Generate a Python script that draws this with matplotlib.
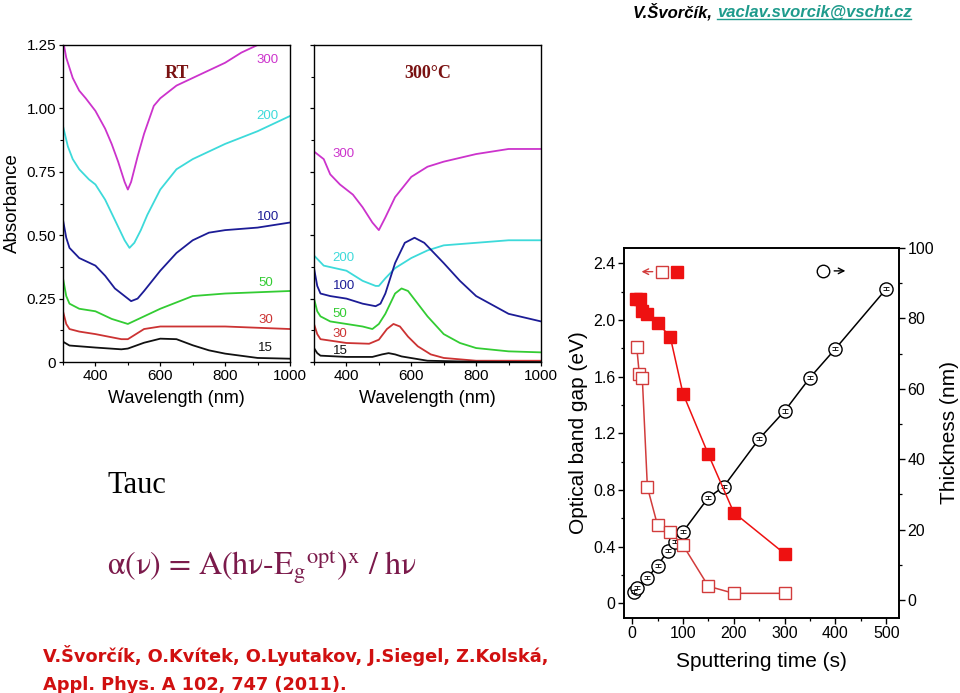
import matplotlib
matplotlib.use('Agg')
import matplotlib.pyplot as plt
from matplotlib.lines import Line2D
from matplotlib.ticker import MultipleLocator

plt.rcParams.update({
    'font.family': ['Liberation Sans', 'DejaVu Sans'],
    'mathtext.fontset': 'stix',
    'xtick.direction': 'out',
    'ytick.direction': 'out',
})

W, H = 960, 693

COL = {
    '300': '#cc33cc',
    '200': '#3ddada',
    '100': '#1c1c96',
    '50': '#33cc33',
    '30': '#cc3333',
    '15': '#111111',
}
TITLE_COL = '#7a1212'

# ── RT absorbance spectra ─────────────────────────────────────────
rt_300_wl = [300, 310, 330, 350, 370, 400, 430, 450, 470, 490, 500, 510, 530, 550, 580, 600, 650, 700, 750, 800, 850, 900, 920]
rt_300_ab = [1.27, 1.20, 1.12, 1.07, 1.04, 0.99, 0.92, 0.86, 0.79, 0.71, 0.68, 0.71, 0.81, 0.90, 1.01, 1.04, 1.09, 1.12, 1.15, 1.18, 1.22, 1.25, 1.27]

rt_200_wl = [300, 315, 330, 350, 380, 400, 430, 460, 490, 505, 520, 540, 560, 600, 650, 700, 800, 900, 1000]
rt_200_ab = [0.93, 0.85, 0.80, 0.76, 0.72, 0.70, 0.64, 0.56, 0.48, 0.45, 0.47, 0.52, 0.58, 0.68, 0.76, 0.80, 0.86, 0.91, 0.97]

rt_100_wl = [300, 310, 320, 350, 400, 430, 460, 490, 510, 530, 550, 600, 650, 700, 750, 800, 900, 1000]
rt_100_ab = [0.56, 0.49, 0.45, 0.41, 0.38, 0.34, 0.29, 0.26, 0.24, 0.25, 0.28, 0.36, 0.43, 0.48, 0.51, 0.52, 0.53, 0.55]

rt_50_wl = [300, 310, 320, 350, 400, 450, 500, 550, 600, 700, 800, 1000]
rt_50_ab = [0.33, 0.26, 0.23, 0.21, 0.20, 0.17, 0.15, 0.18, 0.21, 0.26, 0.27, 0.28]

rt_30_wl = [300, 310, 320, 350, 400, 480, 500, 550, 600, 700, 800, 1000]
rt_30_ab = [0.20, 0.15, 0.13, 0.12, 0.11, 0.09, 0.09, 0.13, 0.14, 0.14, 0.14, 0.13]

rt_15_wl = [300, 320, 400, 480, 500, 550, 600, 650, 700, 750, 800, 900, 1000]
rt_15_ab = [0.08, 0.065, 0.057, 0.050, 0.053, 0.076, 0.092, 0.090, 0.066, 0.046, 0.033, 0.016, 0.013]

# ── 300 °C absorbance spectra ─────────────────────────────────────
ht_300_wl = [300, 330, 350, 380, 420, 450, 480, 500, 520, 550, 600, 650, 700, 800, 900, 1000]
ht_300_ab = [0.83, 0.80, 0.74, 0.70, 0.66, 0.61, 0.55, 0.52, 0.57, 0.65, 0.73, 0.77, 0.79, 0.82, 0.84, 0.84]

ht_200_wl = [300, 330, 400, 450, 490, 500, 520, 550, 600, 650, 700, 800, 900, 1000]
ht_200_ab = [0.42, 0.38, 0.36, 0.32, 0.30, 0.30, 0.33, 0.37, 0.41, 0.44, 0.46, 0.47, 0.48, 0.48]

ht_100_wl = [300, 310, 320, 350, 400, 450, 490, 505, 520, 550, 580, 610, 640, 670, 700, 750, 800, 900, 1000]
ht_100_ab = [0.37, 0.30, 0.27, 0.26, 0.25, 0.23, 0.22, 0.23, 0.27, 0.39, 0.47, 0.49, 0.47, 0.43, 0.39, 0.32, 0.26, 0.19, 0.16]

ht_50_wl = [300, 310, 320, 350, 400, 450, 480, 500, 520, 550, 570, 590, 620, 650, 700, 750, 800, 900, 1000]
ht_50_ab = [0.25, 0.20, 0.18, 0.16, 0.15, 0.14, 0.13, 0.15, 0.19, 0.27, 0.29, 0.28, 0.23, 0.18, 0.11, 0.075, 0.055, 0.042, 0.038]

ht_30_wl = [300, 310, 320, 400, 470, 500, 525, 545, 565, 590, 620, 660, 700, 800, 1000]
ht_30_ab = [0.15, 0.11, 0.09, 0.075, 0.072, 0.088, 0.13, 0.15, 0.14, 0.10, 0.062, 0.030, 0.016, 0.005, 0.005]

ht_15_wl = [300, 310, 320, 400, 480, 510, 530, 550, 570, 650, 800, 1000]
ht_15_ab = [0.055, 0.035, 0.025, 0.020, 0.020, 0.030, 0.035, 0.030, 0.022, 0.005, 0.001, 0.0]

# label anchors (wavelength, absorbance)
rt_labels = {'300': (897, 1.19), '200': (897, 0.97), '100': (897, 0.57),
             '50': (902, 0.31), '30': (902, 0.165), '15': (902, 0.055)}
ht_labels = {'300': (358, 0.82), '200': (358, 0.41), '100': (358, 0.30),
             '50': (358, 0.19), '30': (358, 0.11), '15': (358, 0.043)}

# ── band gap / thickness vs sputtering time ───────────────────────
t_rt = [7, 15, 20, 30, 50, 75, 100, 150, 200, 300]
eg_rt = [2.15, 2.15, 2.06, 2.04, 1.98, 1.88, 1.48, 1.05, 0.64, 0.35]

t_ht = [9, 14, 20, 30, 50, 75, 100, 150, 200, 300]
eg_ht = [1.81, 1.62, 1.59, 0.82, 0.55, 0.50, 0.41, 0.12, 0.07, 0.07]

t_thk = [3, 10, 30, 50, 70, 85, 100, 150, 180, 250, 300, 350, 400, 500]
thk = [2.4, 3.5, 6.4, 9.7, 14.0, 16.6, 19.4, 29.1, 32.2, 45.8, 53.7, 63.2, 71.4, 88.4]
thk_err = [0.45] * len(thk)


def fx(px):
    return px / W


def fy(py):
    return 1 - py / H


fig = plt.figure(figsize=(W / 100, H / 100), dpi=100)


def spectra_panel(rect, series, labels, title, show_ylabels):
    ax = fig.add_axes(rect)
    for key, wl, ab in series:
        ax.plot(wl, ab, color=COL[key], lw=1.3)
    for key, (lx, ly) in labels.items():
        ax.text(lx, ly, key, color=COL[key], fontsize=9.5, ha='left', va='center')
    ax.set_xlim(300, 1000)
    ax.set_ylim(0, 1.25)
    ax.xaxis.set_minor_locator(MultipleLocator(100))
    ax.yaxis.set_major_locator(MultipleLocator(0.25))
    ax.yaxis.set_minor_locator(MultipleLocator(0.125))
    ax.set_xticks([400, 600, 800, 1000])
    ax.tick_params(labelsize=11, length=3, width=0.9, pad=2)
    ax.tick_params(which='minor', length=2, width=0.8)
    for s in ax.spines.values():
        s.set_linewidth(1.0)
    if show_ylabels:
        ax.yaxis.set_major_formatter(plt.FuncFormatter(lambda v, p: '0' if v == 0 else f'{v:.2f}'))
        ax.set_ylabel('Absorbance', fontsize=13.5, labelpad=4)
    else:
        ax.tick_params(axis='y', labelleft=False)
    ax.set_xlabel('Wavelength (nm)', fontsize=13, labelpad=5)
    ax.text(0.5, 0.91, title, transform=ax.transAxes, ha='center', va='center',
            fontsize=13, fontweight='bold', family='Liberation Serif', color=TITLE_COL)
    return ax


rt_series = [('300', rt_300_wl, rt_300_ab), ('200', rt_200_wl, rt_200_ab),
             ('100', rt_100_wl, rt_100_ab), ('50', rt_50_wl, rt_50_ab),
             ('30', rt_30_wl, rt_30_ab), ('15', rt_15_wl, rt_15_ab)]
ht_series = [('300', ht_300_wl, ht_300_ab), ('200', ht_200_wl, ht_200_ab),
             ('100', ht_100_wl, ht_100_ab), ('50', ht_50_wl, ht_50_ab),
             ('30', ht_30_wl, ht_30_ab), ('15', ht_15_wl, ht_15_ab)]

spectra_panel([fx(63), fy(362), 227 / W, 317 / H], rt_series, rt_labels, 'RT', True)
spectra_panel([fx(314), fy(362), 227 / W, 317 / H], ht_series, ht_labels, '300°C', False)

# ── band gap plot ─────────────────────────────────────────────────
ax = fig.add_axes([fx(624), fy(618), 275 / W, 370 / H])
ax2 = ax.twinx()
red = '#ee1111'
red_open = '#d23c3c'

ax2.plot(t_thk, thk, color='black', lw=1.1, zorder=1)
ax2.plot(t_thk, thk, 'o', ms=9.5, mfc='white', mec='black', mew=1.0, zorder=3)
ax2.errorbar(t_thk, thk, yerr=thk_err, fmt='none', ecolor='black', elinewidth=0.6,
             capsize=2.2, capthick=0.6, zorder=4)

ax.plot(t_ht, eg_ht, '-', color=red_open, lw=1.1, zorder=1)
ax.plot(t_ht, eg_ht, 's', ms=8, mfc='white', mec=red_open, mew=1.0, zorder=2)
ax.plot(t_rt, eg_rt, 's-', color=red, ms=8, lw=1.1, zorder=2)
ax.set_zorder(ax2.get_zorder() + 1)
ax.patch.set_visible(False)

# key markers
ax.plot([58], [2.34], 's', ms=8, mfc='white', mec=red_open, mew=1.0)
ax.plot([88], [2.34], 's', ms=8, color=red)
ax.annotate('', xy=(13, 2.34), xytext=(46, 2.34),
            arrowprops=dict(arrowstyle='->', color=red_open, lw=1.0))
ax2.plot([375], [93.5], 'o', ms=9, mfc='white', mec='black', mew=1.0)
ax2.annotate('', xy=(425, 93.5), xytext=(392, 93.5),
             arrowprops=dict(arrowstyle='->', color='black', lw=1.0))

ax.set_xlim(-16, 525)
ax.set_ylim(-0.104, 2.507)
ax2.set_ylim(-5.1, 100)
ax.xaxis.set_major_locator(MultipleLocator(100))
ax.xaxis.set_minor_locator(MultipleLocator(50))
ax.yaxis.set_major_locator(MultipleLocator(0.4))
ax.yaxis.set_minor_locator(MultipleLocator(0.2))
ax2.yaxis.set_major_locator(MultipleLocator(20))
ax2.yaxis.set_minor_locator(MultipleLocator(10))
ax.yaxis.set_major_formatter(plt.FuncFormatter(lambda v, p: '0' if abs(v) < 1e-9 else f'{v:.1f}'))
for a in (ax, ax2):
    a.tick_params(labelsize=11.5, length=4, width=1.0, pad=2)
    a.tick_params(which='minor', length=2.5, width=0.9)
    for s in a.spines.values():
        s.set_linewidth(1.2)
ax.set_xlabel('Sputtering time (s)', fontsize=15, labelpad=8)
ax.set_ylabel('Optical band gap (eV)', fontsize=15, labelpad=4)
ax2.set_ylabel('Thickness (nm)', fontsize=15, labelpad=4)

# ── texts ─────────────────────────────────────────────────────────
fig.text(fx(107), fy(493), 'Tauc', fontsize=22, family='Liberation Serif', va='baseline')
fig.text(fx(107), fy(575),
         r'$\mathrm{\alpha(\nu)}$ = A(h$\mathrm{\nu}$-E$_\mathrm{g}$$^\mathrm{opt}$)$^\mathrm{x}$ / h$\mathrm{\nu}$',
         fontsize=23, family='STIXGeneral', color='#7b1a4b', va='baseline')
cite_col = '#d01010'
fig.text(fx(43), fy(662), 'V.Švorčík, O.Kvítek, O.Lyutakov, J.Siegel, Z.Kolská,',
         fontsize=12.8, fontweight='bold', color=cite_col, family='DejaVu Sans', va='baseline')
fig.text(fx(43), fy(690), 'Appl. Phys. A 102, 747 (2011).',
         fontsize=12.8, fontweight='bold', color=cite_col, family='DejaVu Sans', va='baseline')

h1 = fig.text(fx(633), fy(17), 'V.Švorčík, ', fontsize=12, fontweight='bold',
              style='italic', color='black', va='baseline')
fig.canvas.draw()
r = fig.canvas.get_renderer()
bb = h1.get_window_extent(r)
h2 = fig.text(bb.x1 / W, fy(17), 'vaclav.svorcik@vscht.cz', fontsize=12, fontweight='bold',
              style='italic', color='#1f9b8c', va='baseline')
fig.canvas.draw()
bb2 = h2.get_window_extent(r)
uy = bb2.y0 + 1
fig.add_artist(Line2D([bb2.x0 / W, bb2.x1 / W], [uy / H, uy / H], color='#1f9b8c', lw=1.0))

fig.savefig('out.png', dpi=100)
